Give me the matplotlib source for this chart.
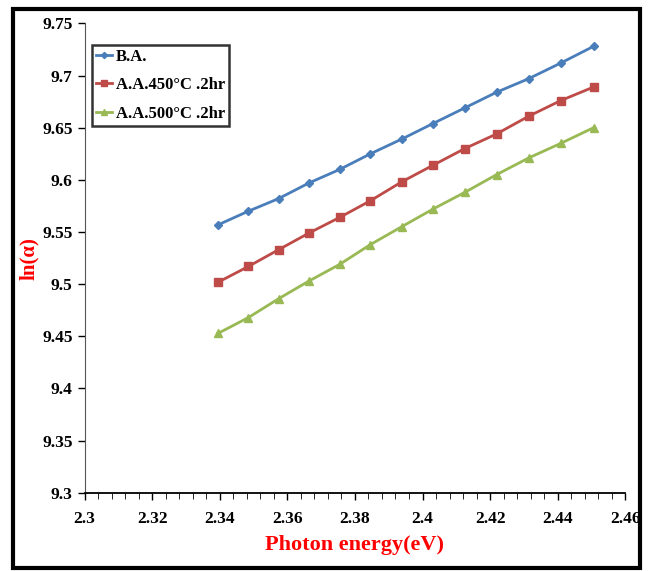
# plot ln(alpha) against photon energy for the three samples
import matplotlib
matplotlib.use('Agg')
import matplotlib.pyplot as plt
from matplotlib.patches import Rectangle
from matplotlib.ticker import MultipleLocator

# photon energy (eV)
energy = [2.3396, 2.3485, 2.3574, 2.3664, 2.3755, 2.3846, 2.3938,
          2.4031, 2.4125, 2.4219, 2.4314, 2.4409, 2.4506]

# ln(alpha) values
ba = [9.557, 9.570, 9.582, 9.597, 9.610, 9.625, 9.639,
      9.654, 9.669, 9.684, 9.697, 9.712, 9.728]
aa450 = [9.502, 9.517, 9.533, 9.549, 9.564, 9.580, 9.598,
         9.614, 9.630, 9.644, 9.661, 9.676, 9.689]
aa500 = [9.453, 9.468, 9.486, 9.503, 9.519, 9.538, 9.555,
         9.572, 9.588, 9.605, 9.621, 9.635, 9.650]

labels = ['B.A.', 'A.A.450°C .2hr', 'A.A.500°C .2hr']

plt.rcParams['font.family'] = ['Liberation Serif', 'DejaVu Serif']
plt.rcParams['font.weight'] = 'bold'

fig = plt.figure(figsize=(6.5, 5.71), dpi=100)
ax = fig.add_axes([0.130, 0.137, 0.832, 0.822])

ax.plot(energy, ba, color='#4a7ebb', marker='D', markersize=4.5, lw=2, label=labels[0])
ax.plot(energy, aa450, color='#be4b48', marker='s', markersize=5.5, lw=2, label=labels[1])
ax.plot(energy, aa500, color='#98b954', marker='^', markersize=6, lw=2, label=labels[2])

ax.xaxis.set_major_locator(MultipleLocator(0.02))
ax.xaxis.set_minor_locator(MultipleLocator(0.004))
ax.yaxis.set_major_locator(MultipleLocator(0.05))
ax.set_xlim(2.3, 2.46)
ax.set_ylim(9.3, 9.75)

# tick labels like 2.3, 2.32 ... and 9.3, 9.35 ...
ax.xaxis.set_major_formatter(lambda v, pos: '%g' % round(v, 2))
ax.yaxis.set_major_formatter(lambda v, pos: '%g' % round(v, 2))

ax.spines['top'].set_visible(False)
ax.spines['right'].set_visible(False)
ax.spines['left'].set_color('#555555')
ax.spines['bottom'].set_linewidth(1.3)
ax.tick_params(axis='both', labelsize=12.5, width=1, length=5)
ax.tick_params(axis='x', which='minor', length=4)
ax.tick_params(axis='x', pad=8)

ax.set_xlabel('Photon energy(eV)', color='red', fontsize=16, fontweight='bold', labelpad=6)
ax.set_ylabel('ln(α)', color='red', fontsize=15, fontweight='bold', labelpad=2)

leg = ax.legend(loc='upper left', bbox_to_anchor=(0.013, 0.955), fontsize=12,
                frameon=True, fancybox=False, handlelength=1.0, handletextpad=0.2,
                borderpad=0.25, labelspacing=0.75, markerscale=0.7,
                borderaxespad=0)
leg.get_frame().set_edgecolor('black')
leg.get_frame().set_linewidth(1.8)

# outer frame round the whole picture
fig.patches.append(Rectangle((0.02, 0.005), 0.965, 0.98, transform=fig.transFigure,
                             fill=False, edgecolor='black', linewidth=3))

fig.savefig('out.png', dpi=100)
